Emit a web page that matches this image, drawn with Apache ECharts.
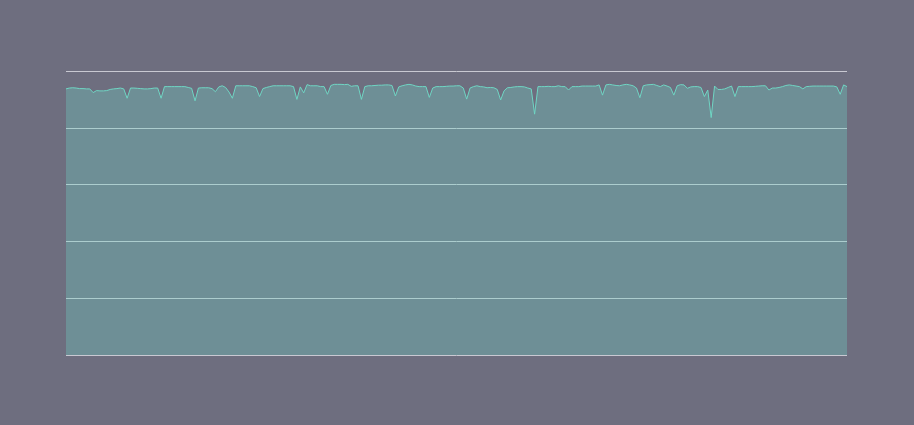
<!DOCTYPE html>
<html>
<head>
<meta charset="utf-8">
<script src="https://cdn.jsdelivr.net/npm/echarts@6/dist/echarts.min.js"></script>
<style>
html,body{margin:0;padding:0;background:#6e6e7f;}
#chart{width:914px;height:425px;}
</style>
</head>
<body>
<div id="chart"></div>
<script>
const seriesValues = [
93.7,94.0,94.1,94.0,93.8,93.8,93.7,93.7,92.4,93.1,
93.0,93.0,93.1,93.5,93.7,93.8,94.0,93.7,90.4,94.0,
94.0,93.9,93.8,93.7,93.7,93.8,94.0,94.0,90.4,94.5,
94.5,94.5,94.5,94.5,94.5,94.5,94.2,93.9,89.5,94.0,
94.1,94.1,94.1,93.8,92.7,94.4,94.8,94.2,92.6,90.4,
94.8,94.8,94.8,94.8,94.8,94.5,94.1,91.0,93.8,94.2,
94.5,94.8,94.8,94.8,94.8,94.8,94.8,94.5,90.0,94.4,
92.3,95.2,94.8,94.8,94.8,94.5,94.5,91.8,94.9,95.3,
95.3,95.3,95.2,95.3,94.6,94.8,94.8,90.0,94.5,94.8,
94.8,94.9,95.0,95.0,95.1,95.1,94.9,91.2,94.4,94.8,
95.1,95.3,95.1,94.7,94.5,94.5,94.5,90.7,94.0,94.5,
94.5,94.5,94.6,94.7,94.7,94.8,94.8,94.0,90.1,94.0,
94.5,94.8,94.5,94.4,94.1,94.2,94.1,93.5,89.8,93.0,
94.1,94.2,94.4,94.5,94.5,94.4,94.0,93.7,84.8,94.5,
94.5,94.5,94.6,94.5,94.5,94.8,94.5,94.5,93.3,94.5,
94.5,94.5,94.7,94.7,94.7,94.7,94.7,95.1,91.5,95.1,
95.3,95.1,94.9,94.8,95.1,95.3,95.1,94.8,94.0,90.6,
94.8,95.1,95.2,95.3,94.9,94.5,95.1,94.7,94.2,91.5,
94.8,95.2,95.1,93.9,94.4,94.5,94.5,94.2,91.0,93.3,
83.6,94.7,93.5,93.5,93.7,94.2,94.7,91.0,94.5,94.5,
94.5,94.5,94.5,94.6,94.7,94.8,94.8,93.3,94.0,94.0,
94.2,94.5,94.9,95.1,94.9,94.7,94.5,93.7,94.5,94.6,
94.7,94.7,94.7,94.7,94.7,94.7,94.7,94.4,91.8,95.1,
94.5
];
const categories = seriesValues.map((_, i) => String(i + 1));
const yMin = 0;
const yMax = 100;
const yInterval = 20;

const chart = echarts.init(document.getElementById('chart'), null, {renderer: 'canvas'});
chart.setOption({
  backgroundColor: '#6e6e7f',
  animation: false,
  grid: {left: 66, right: 67, top: 71, bottom: 70},
  xAxis: {
    type: 'category',
    data: categories,
    boundaryGap: false,
    axisLine: {show: false},
    axisTick: {show: false},
    axisLabel: {show: false},
    splitLine: {show: false}
  },
  yAxis: {
    type: 'value',
    min: yMin,
    max: yMax,
    interval: yInterval,
    axisLine: {show: false},
    axisTick: {show: false},
    axisLabel: {show: false},
    splitLine: {show: true, lineStyle: {color: '#c9c9d2', width: 1}}
  },
  series: [{
    type: 'line',
    data: seriesValues,
    showSymbol: false,
    symbol: 'none',
    lineStyle: {color: '#6fd6c4', width: 1},
    itemStyle: {color: '#6fd6c4'},
    areaStyle: {color: '#6fd6c4', opacity: 0.33}
  }]
});
</script>
</body>
</html>
